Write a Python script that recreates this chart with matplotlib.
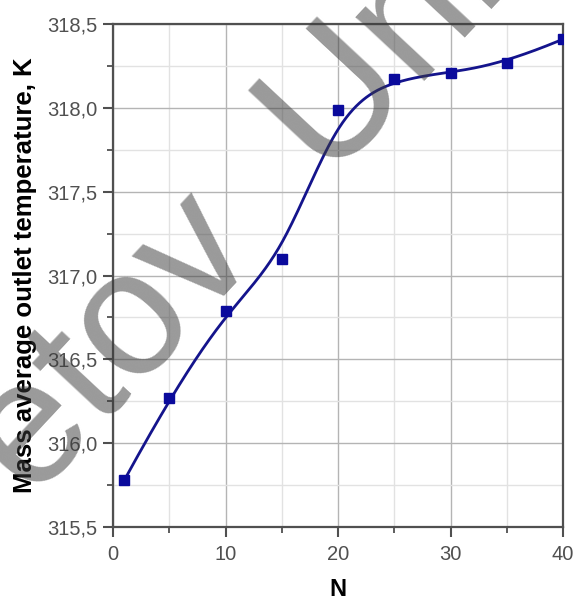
import matplotlib
matplotlib.use('Agg')
import matplotlib.pyplot as plt
from matplotlib.ticker import MultipleLocator, FuncFormatter
import numpy as np

plt.rcParams['font.family'] = ['Liberation Sans', 'DejaVu Sans']

n_vals = [1, 5, 10, 15, 20, 25, 30, 35, 40]
temp_vals = [315.78, 316.27, 316.79, 317.10, 317.99, 318.17, 318.21, 318.27, 318.41]
xlabel = 'N'
ylabel = 'Mass average outlet temperature, K'
watermark = 'etov  Uni'


def bspline(px, py, k=3, num=400):
    # clamped uniform B-spline with the data points as control points (Origin style)
    px = np.asarray(px, float)
    py = np.asarray(py, float)
    n = len(px)
    inner = np.arange(1, n - k)
    knots = np.concatenate([np.zeros(k + 1), inner, np.full(k + 1, n - k)])
    t = np.linspace(0, n - k, num)
    t[-1] -= 1e-9
    B = np.zeros((num, len(knots) - 1))
    for i in range(len(knots) - 1):
        B[:, i] = (t >= knots[i]) & (t < knots[i + 1])
    for d in range(1, k + 1):
        Bn = np.zeros((num, len(knots) - 1 - d))
        for i in range(len(knots) - 1 - d):
            a = knots[i + d] - knots[i]
            b = knots[i + d + 1] - knots[i + 1]
            left = (t - knots[i]) / a * B[:, i] if a > 0 else 0
            right = (knots[i + d + 1] - t) / b * B[:, i + 1] if b > 0 else 0
            Bn[:, i] = left + right
        B = Bn
    return B @ px, B @ py


fig = plt.figure(figsize=(5.74, 6.01), dpi=100)
ax = fig.add_axes([0.197, 0.123, 0.784, 0.837])

sx, sy = bspline(n_vals, temp_vals)
ax.plot(sx, sy, color='#14148c', lw=2.0, zorder=4)
ax.plot(n_vals, temp_vals, 's', color='#0a0a9c', ms=7.5, zorder=5)

ax.set_xlim(0, 40)
ax.set_ylim(315.5, 318.5)
ax.xaxis.set_major_locator(MultipleLocator(10))
ax.xaxis.set_minor_locator(MultipleLocator(5))
ax.yaxis.set_major_locator(MultipleLocator(0.5))
ax.yaxis.set_minor_locator(MultipleLocator(0.25))
ax.yaxis.set_major_formatter(FuncFormatter(lambda v, p: f'{v:.1f}'.replace('.', ',')))

ax.grid(which='major', color='#b4b4b4', lw=1.0, zorder=0)
ax.grid(which='minor', color='#e2e2e2', lw=1.0, zorder=0)
ax.set_axisbelow(True)

for s in ax.spines.values():
    s.set_color('#505050')
    s.set_linewidth(1.6)
ax.tick_params(which='major', direction='out', length=7, width=1.5, color='#505050',
               labelsize=14.5, labelcolor='#505050', pad=4)
ax.tick_params(axis='x', which='major', pad=6)
ax.tick_params(which='minor', direction='out', length=4, width=1.3, color='#505050')

ax.set_xlabel(xlabel, fontsize=17, fontweight='bold', labelpad=10)
ax.set_ylabel(ylabel, fontsize=18.5, fontweight='bold')
ax.yaxis.set_label_coords(-0.168, 0.5)

# semi-transparent watermark laid over the whole picture
fig.text(0.415, 0.645, watermark, fontsize=128, color='#3c3c3c', alpha=0.52,
         rotation=47, ha='center', va='center', zorder=3)

fig.savefig('out.png', dpi=100)
